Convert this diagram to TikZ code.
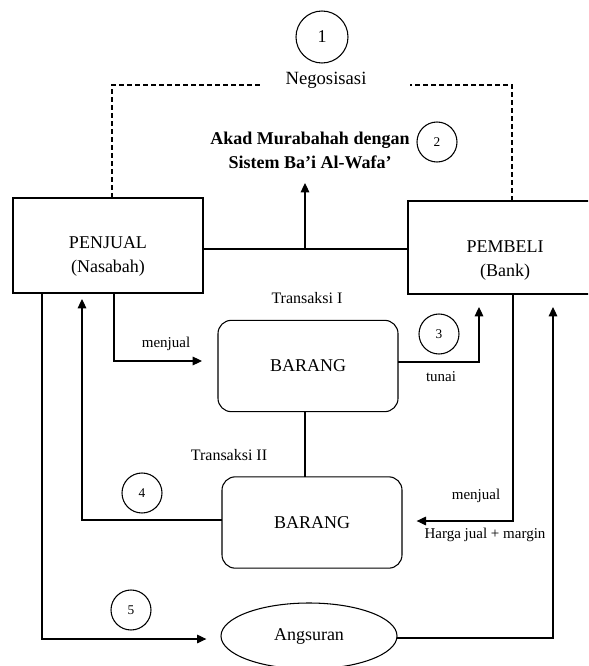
\documentclass[tikz,border=0pt]{standalone}
\usepackage{fontspec}
\setmainfont{Liberation Serif}
\usetikzlibrary{arrows.meta,shapes.geometric}

\begin{document}
\begin{tikzpicture}[x=0.75pt,y=-0.75pt,line width=0.8pt,
    box/.style={draw,outer sep=0pt,align=center,font=\fontsize{13.5}{18}\selectfont},
    goods/.style={box,rounded corners=10pt,minimum width=135pt,minimum height=68.5pt},
    num/.style={circle,draw,inner sep=0pt,minimum size=30pt,font=\fontsize{10}{12}\selectfont},
    lbl/.style={font=\fontsize{11.25}{13}\selectfont},
    trans/.style={font=\fontsize{12}{14}\selectfont},
    arr/.style={-{Triangle[length=7pt,width=6.5pt]}},
    dashline/.style={dash pattern=on 3.75pt off 2.25pt}]
      \clip (0,0) rectangle (588,666);
      \node[num,minimum size=39pt,font=\fontsize{13.5}{16}\selectfont] (n1) at (322,37) {1};
      \node[font=\fontsize{14}{16}\selectfont] (nego) at (326,80) {Negosisasi};
      \node[align=center,font=\bfseries\fontsize{13.5}{18}\selectfont] (akad) at (310,150) {Akad Murabahah dengan\\Sistem Ba'i Al-Wafa'};
      \node[num] (n2) at (437,142) {2};
      \node[box,minimum width=142.5pt,minimum height=71.25pt] (penjual) at (108,245.5) {\rule{0pt}{25pt}PENJUAL\\(Nasabah)};
      \node[box,minimum width=145.5pt,minimum height=69.75pt] (pembeli) at (505,247.5) {\rule{0pt}{28pt}PEMBELI\\(Bank)};
      \node[trans] (trans1) at (307,298) {Transaksi I};
      \node[goods] (barang1) at (308,366) {BARANG};
      \node[goods] (barang2) at (312,522.5) {BARANG};
      \node[trans] (trans2) at (229,455) {Transaksi II};
      \node[ellipse,draw,outer sep=0pt,minimum width=132pt,minimum height=49.5pt,font=\fontsize{13.5}{16}\selectfont] (angsuran) at (309,636) {Angsuran};
      \node[num] (n3) at (439,334) {3};
      \node[num] (n4) at (142,493) {4};
      \node[num] (n5) at (131,610) {5};
      \node[lbl] (sell1) at (166,344) {menjual};
      \node[lbl] (tunai) at (441,377) {tunai};
      \node[lbl] (sell2) at (476,496) {menjual};
      \node[lbl] (harga) at (485,535) {Harga jual + margin};
      \coordinate (mid) at (305,249);
      \coordinate (akadtip) at (305,183);
      \coordinate (dl) at (112,85);
      \coordinate (dlend) at (260,85);
      \coordinate (dr) at (512,85);
      \coordinate (drend) at (410,85);
      \coordinate (sell) at (114,361);
      \coordinate (cash) at (479,362);
      \coordinate (back) at (82,520);
      \coordinate (resell) at (513,521);
      \coordinate (pay) at (42,639);
      \coordinate (payup) at (553,638);
      \draw (penjual.east |- mid) -- (pembeli.west |- mid);
      \draw[arr] (mid) -- (akadtip);
      \draw[dashline] (penjual.north -| dl) -- (dl) -- (dlend);
      \draw[dashline] (pembeli.north -| dr) -- (dr) -- (drend);
      \draw[arr,shorten >=12pt] (penjual.south -| sell) -- (sell) -- (barang1.west |- sell);
      \draw[arr,shorten >=9.75pt] (barang1.east |- cash) -- (cash) -- (pembeli.south -| cash);
      \draw (mid |- barang1.south) -- (mid |- barang2.north);
      \draw[arr,shorten >=4.5pt] (barang2.west |- back) -- (back) -- (penjual.south -| back);
      \draw[arr,shorten >=11pt] (pembeli.south -| resell) -- (resell) -- (barang2.east |- resell);
      \draw[arr,shorten >=11pt] (penjual.south -| pay) -- (pay) -- (angsuran.west |- pay);
      \draw[arr,shorten >=9.75pt] (angsuran.east |- payup) -- (payup) -- (pembeli.south -| payup);
    \end{tikzpicture}
\end{document}
